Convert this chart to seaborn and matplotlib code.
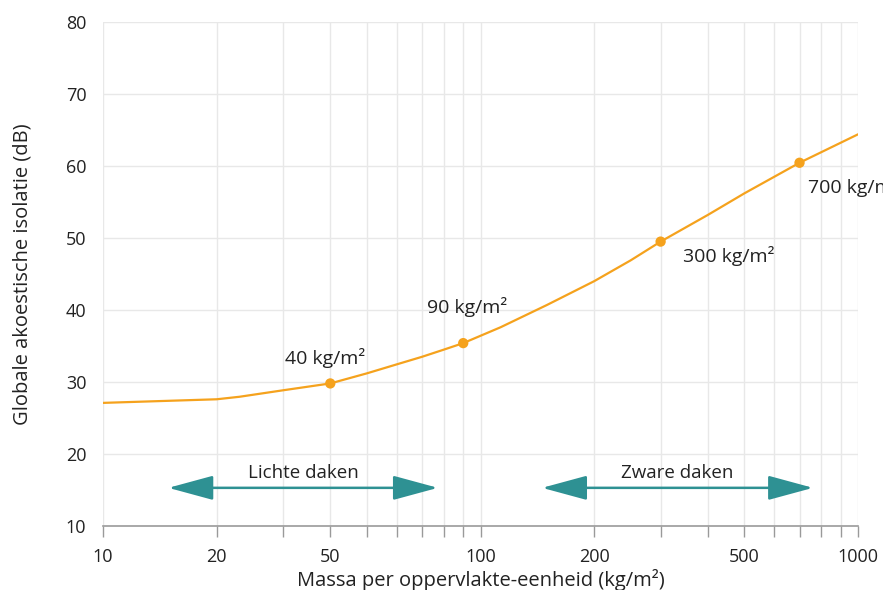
import matplotlib
matplotlib.use("Agg")
import matplotlib.pyplot as plt
from matplotlib.ticker import LogLocator, FixedLocator, FixedFormatter, NullFormatter
import seaborn as sns
import pandas as pd
import numpy as np

# Mass per unit area (kg/m²) and global acoustic insulation (dB)
mass = [10, 20, 23, 30, 40, 50, 60, 70, 80, 90, 113, 150, 200, 250, 300, 400, 500, 700, 1000]
isolation = [27.1, 27.6, 27.95, 28.85, 29.8, 31.2, 32.45, 33.5, 34.5, 35.4, 37.6, 40.7,
             44.0, 46.9, 49.5, 53.2, 56.2, 60.45, 64.4]

# Highlighted roof masses
marked_mass = [40, 90, 300, 700]
marked_iso = [29.8, 35.4, 49.5, 60.45]
marked_labels = ["40 kg/m²", "90 kg/m²", "300 kg/m²", "700 kg/m²"]

# Ranges for light and heavy roofs
range_names = ["Lichte daken", "Zware daken"]
range_start = [14.9, 145.6]
range_end = [77.1, 760]
range_level = 15.3

x_ticks = [10, 20, 40, 100, 200, 500, 1000]
x_tick_labels = ["10", "20", "50", "100", "200", "500", "1000"]
y_ticks = [10, 20, 30, 40, 50, 60, 70, 80]

ORANGE = "#f5a21d"
TEAL = "#2e9193"
GRID = "#e8e8e8"
TEXT = "#222222"

sns.set_theme(style="white")
plt.rcParams["font.family"] = ["Open Sans", "DejaVu Sans"]

fig = plt.figure(figsize=(8.83, 5.90), dpi=100)
ax = fig.add_axes([103 / 883, 1 - 526 / 590, (858 - 103) / 883, (526 - 22) / 590])

curve = pd.DataFrame({"mass": mass, "isolation": isolation})
points = pd.DataFrame({"mass": marked_mass, "isolation": marked_iso})

sns.lineplot(data=curve, x="mass", y="isolation", color=ORANGE, linewidth=1.6, ax=ax, zorder=3)
sns.scatterplot(data=points, x="mass", y="isolation", color=ORANGE, s=55, edgecolor="none",
                ax=ax, zorder=4)

ax.set_xscale("log")
ax.set_xlim(10, 1000)
ax.set_ylim(10, 80)

ax.xaxis.set_major_locator(FixedLocator(x_ticks))
ax.xaxis.set_major_formatter(FixedFormatter(x_tick_labels))
ax.xaxis.set_minor_locator(LogLocator(base=10, subs=np.arange(1, 10)))
ax.xaxis.set_minor_formatter(NullFormatter())
ax.set_yticks(y_ticks)

ax.grid(True, which="both", axis="x", color=GRID, linewidth=1.0)
ax.grid(True, which="major", axis="y", color=GRID, linewidth=1.0)
ax.set_axisbelow(True)

for side in ["top", "right", "left"]:
    ax.spines[side].set_visible(False)
ax.spines["bottom"].set_color("#9a9a9a")
ax.spines["bottom"].set_linewidth(1.2)

ax.tick_params(axis="x", which="both", bottom=True, length=8, width=1, color="#9a9a9a",
               pad=8, labelsize=13, labelcolor=TEXT)
ax.tick_params(axis="y", left=False, length=0, pad=12, labelsize=13, labelcolor=TEXT)

ax.set_xlabel("Massa per oppervlakte-eenheid (kg/m²)", fontsize=14.5, color=TEXT, labelpad=2)
ax.set_ylabel("Globale akoestische isolatie (dB)", fontsize=14.5, color=TEXT, labelpad=24)

# Labels next to the highlighted points
label_offsets = [(-3.6, 13.7), (2.9, 21.6), (16, -14.4), (5.8, -21.8)]
label_align = ["center", "center", "left", "left"]
for mx, my, txt, off, ha in zip(marked_mass, marked_iso, marked_labels, label_offsets, label_align):
    ax.annotate(txt, xy=(mx, my), xytext=off, textcoords="offset points",
                ha=ha, va="baseline", fontsize=14, color=TEXT, annotation_clip=False)

# Double-headed arrows marking the roof categories
for name, x0, x1 in zip(range_names, range_start, range_end):
    ax.annotate("", xy=(x1, range_level), xytext=(x0, range_level),
                arrowprops=dict(arrowstyle="<|-|>,head_length=2.8,head_width=0.76",
                                color=TEAL, lw=1.8, shrinkA=0, shrinkB=0, mutation_scale=10),
                zorder=3)
    ax.annotate(name, xy=(np.sqrt(x0 * x1), range_level), xytext=(0, 7),
                textcoords="offset points", ha="center", va="baseline",
                fontsize=13.5, color=TEXT)

fig.savefig("out.png", dpi=100, facecolor="white")
